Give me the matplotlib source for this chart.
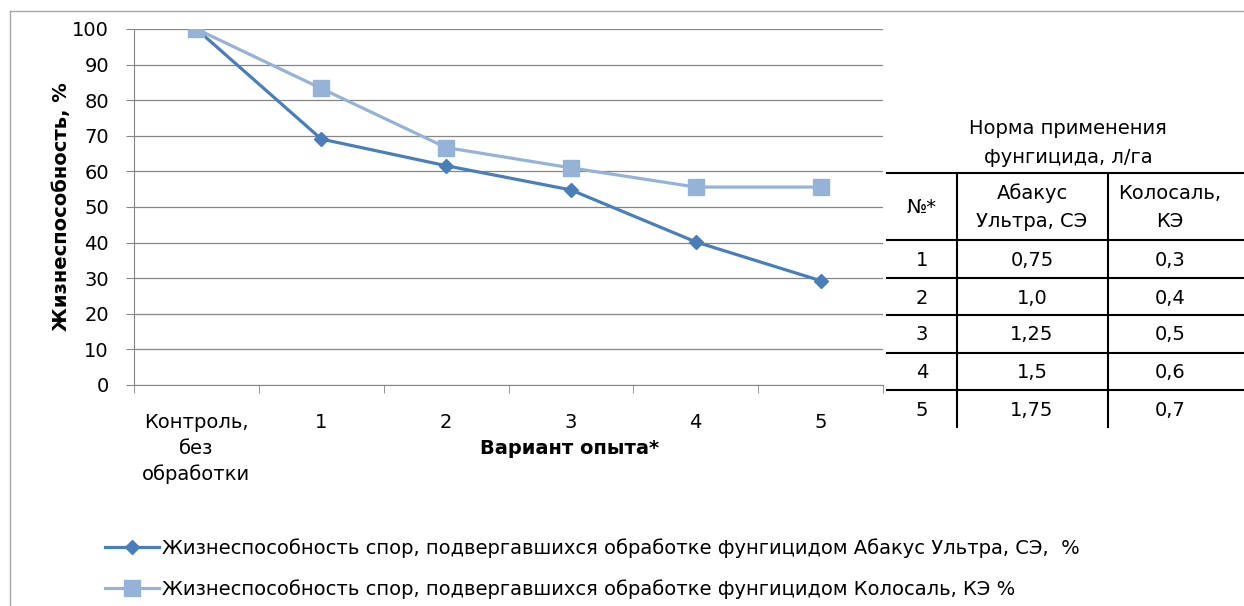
import numpy as np
import matplotlib.pyplot as plt
from matplotlib.lines import Line2D

plt.rcParams['font.family'] = ['DejaVu Sans']

# chart data
categories = ["Контроль,\nбез\nобработки", "1", "2", "3", "4", "5"]
abacus = [100, 69.1, 61.6, 54.8, 40.2, 29.3]
kolosal = [100, 83.3, 66.7, 61.0, 55.6, 55.6]
abacus_label = "Жизнеспособность спор, подвергавшихся обработке фунгицидом Абакус Ультра, СЭ,  %"
kolosal_label = "Жизнеспособность спор, подвергавшихся обработке фунгицидом Колосаль, КЭ %"

# side table
tab_title = "Норма применения\nфунгицида, л/га"
tab_header = ["№*", "Абакус\nУльтра, СЭ", "Колосаль,\nКЭ"]
tab_num = ["1", "2", "3", "4", "5"]
tab_abacus = ["0,75", "1,0", "1,25", "1,5", "1,75"]
tab_kolosal = ["0,3", "0,4", "0,5", "0,6", "0,7"]

W, H = 1244, 606
fig = plt.figure(figsize=(W / 100, H / 100), dpi=100)

def fx(px):
    return px / W

def fy(py):
    return 1 - py / H

dark = "#4a7ebb"
light = "#95b3d7"
grid_c = "#868686"
fs = 14

# outer chart border (only top and left are inside the picture)
border_kw = dict(color="#a6a6a6", lw=1.0, transform=fig.transFigure)
fig.add_artist(Line2D([fx(10), 1.0], [fy(11), fy(11)], **border_kw))
fig.add_artist(Line2D([fx(10), fx(10)], [fy(11), 0.0], **border_kw))

ax = fig.add_axes([fx(134), fy(385), fx(883) - fx(134), fy(29) - fy(385)])
x = np.arange(len(categories))
ax.plot(x, abacus, color=dark, lw=2.3, marker="D", ms=7, label=abacus_label, zorder=3)
ax.plot(x, kolosal, color=light, lw=2.3, marker="s", ms=11, label=kolosal_label, zorder=4)

ax.set_xlim(-0.5, len(categories) - 0.5)
ax.set_ylim(0, 100)
ax.set_yticks(np.arange(0, 101, 10))
ax.yaxis.grid(True, color=grid_c, lw=0.9)
ax.set_axisbelow(True)
for s in ["top", "right"]:
    ax.spines[s].set_visible(False)
ax.spines["left"].set_color(grid_c)
ax.spines["bottom"].set_color(grid_c)
ax.set_xticks(x)
ax.set_xticklabels(categories, fontsize=fs, linespacing=1.45)
ax.set_xticks(np.arange(-0.5, len(categories)), minor=True)
ax.tick_params(axis="x", which="major", length=0, pad=20)
ax.tick_params(axis="x", which="minor", length=6, color=grid_c, direction="out")
ax.tick_params(axis="y", length=6, color=grid_c, labelsize=fs, pad=12)
ax.set_ylabel("Жизнеспособность, %", fontsize=fs, fontweight="bold", labelpad=1)
ax.set_xlabel("Вариант опыта*", fontsize=fs, fontweight="bold")
ax.xaxis.set_label_coords(0.582, -0.152)

# legend
handles = [Line2D([], [], color=dark, lw=2.3, marker="D", ms=7),
           Line2D([], [], color=light, lw=2.3, marker="s", ms=11)]
fig.legend(handles, [abacus_label, kolosal_label], loc="upper left",
           bbox_to_anchor=(fx(105), fy(538)), frameon=False, fontsize=fs,
           borderpad=0, borderaxespad=0,
           handlelength=2.8, handletextpad=0.15, labelspacing=1.1)

# table
fig.text(fx(1068), fy(143), tab_title, ha="center", va="center", fontsize=fs, linespacing=1.65)
line_kw = dict(color="black", lw=1.5, transform=fig.transFigure)
row_y = [240, 278, 315, 353, 390]
fig.add_artist(Line2D([fx(887), 1.0], [fy(173), fy(173)], **line_kw))
for yy in row_y:
    fig.add_artist(Line2D([fx(887), 1.0], [fy(yy), fy(yy)], **line_kw))
for xx in [957, 1108]:
    fig.add_artist(Line2D([fx(xx), fx(xx)], [fy(173), fy(427)], **line_kw))
col_x = [922, 1032, 1170]
for cx, txt in zip(col_x, tab_header):
    fig.text(fx(cx), fy(207), txt, ha="center", va="center", fontsize=fs, linespacing=1.6)
for i in range(len(tab_num)):
    cy = fy(row_y[i] + 20)
    fig.text(fx(col_x[0]), cy, tab_num[i], ha="center", va="center", fontsize=fs)
    fig.text(fx(col_x[1]), cy, tab_abacus[i], ha="center", va="center", fontsize=fs)
    fig.text(fx(col_x[2]), cy, tab_kolosal[i], ha="center", va="center", fontsize=fs)

fig.savefig("out.png", dpi=100)
